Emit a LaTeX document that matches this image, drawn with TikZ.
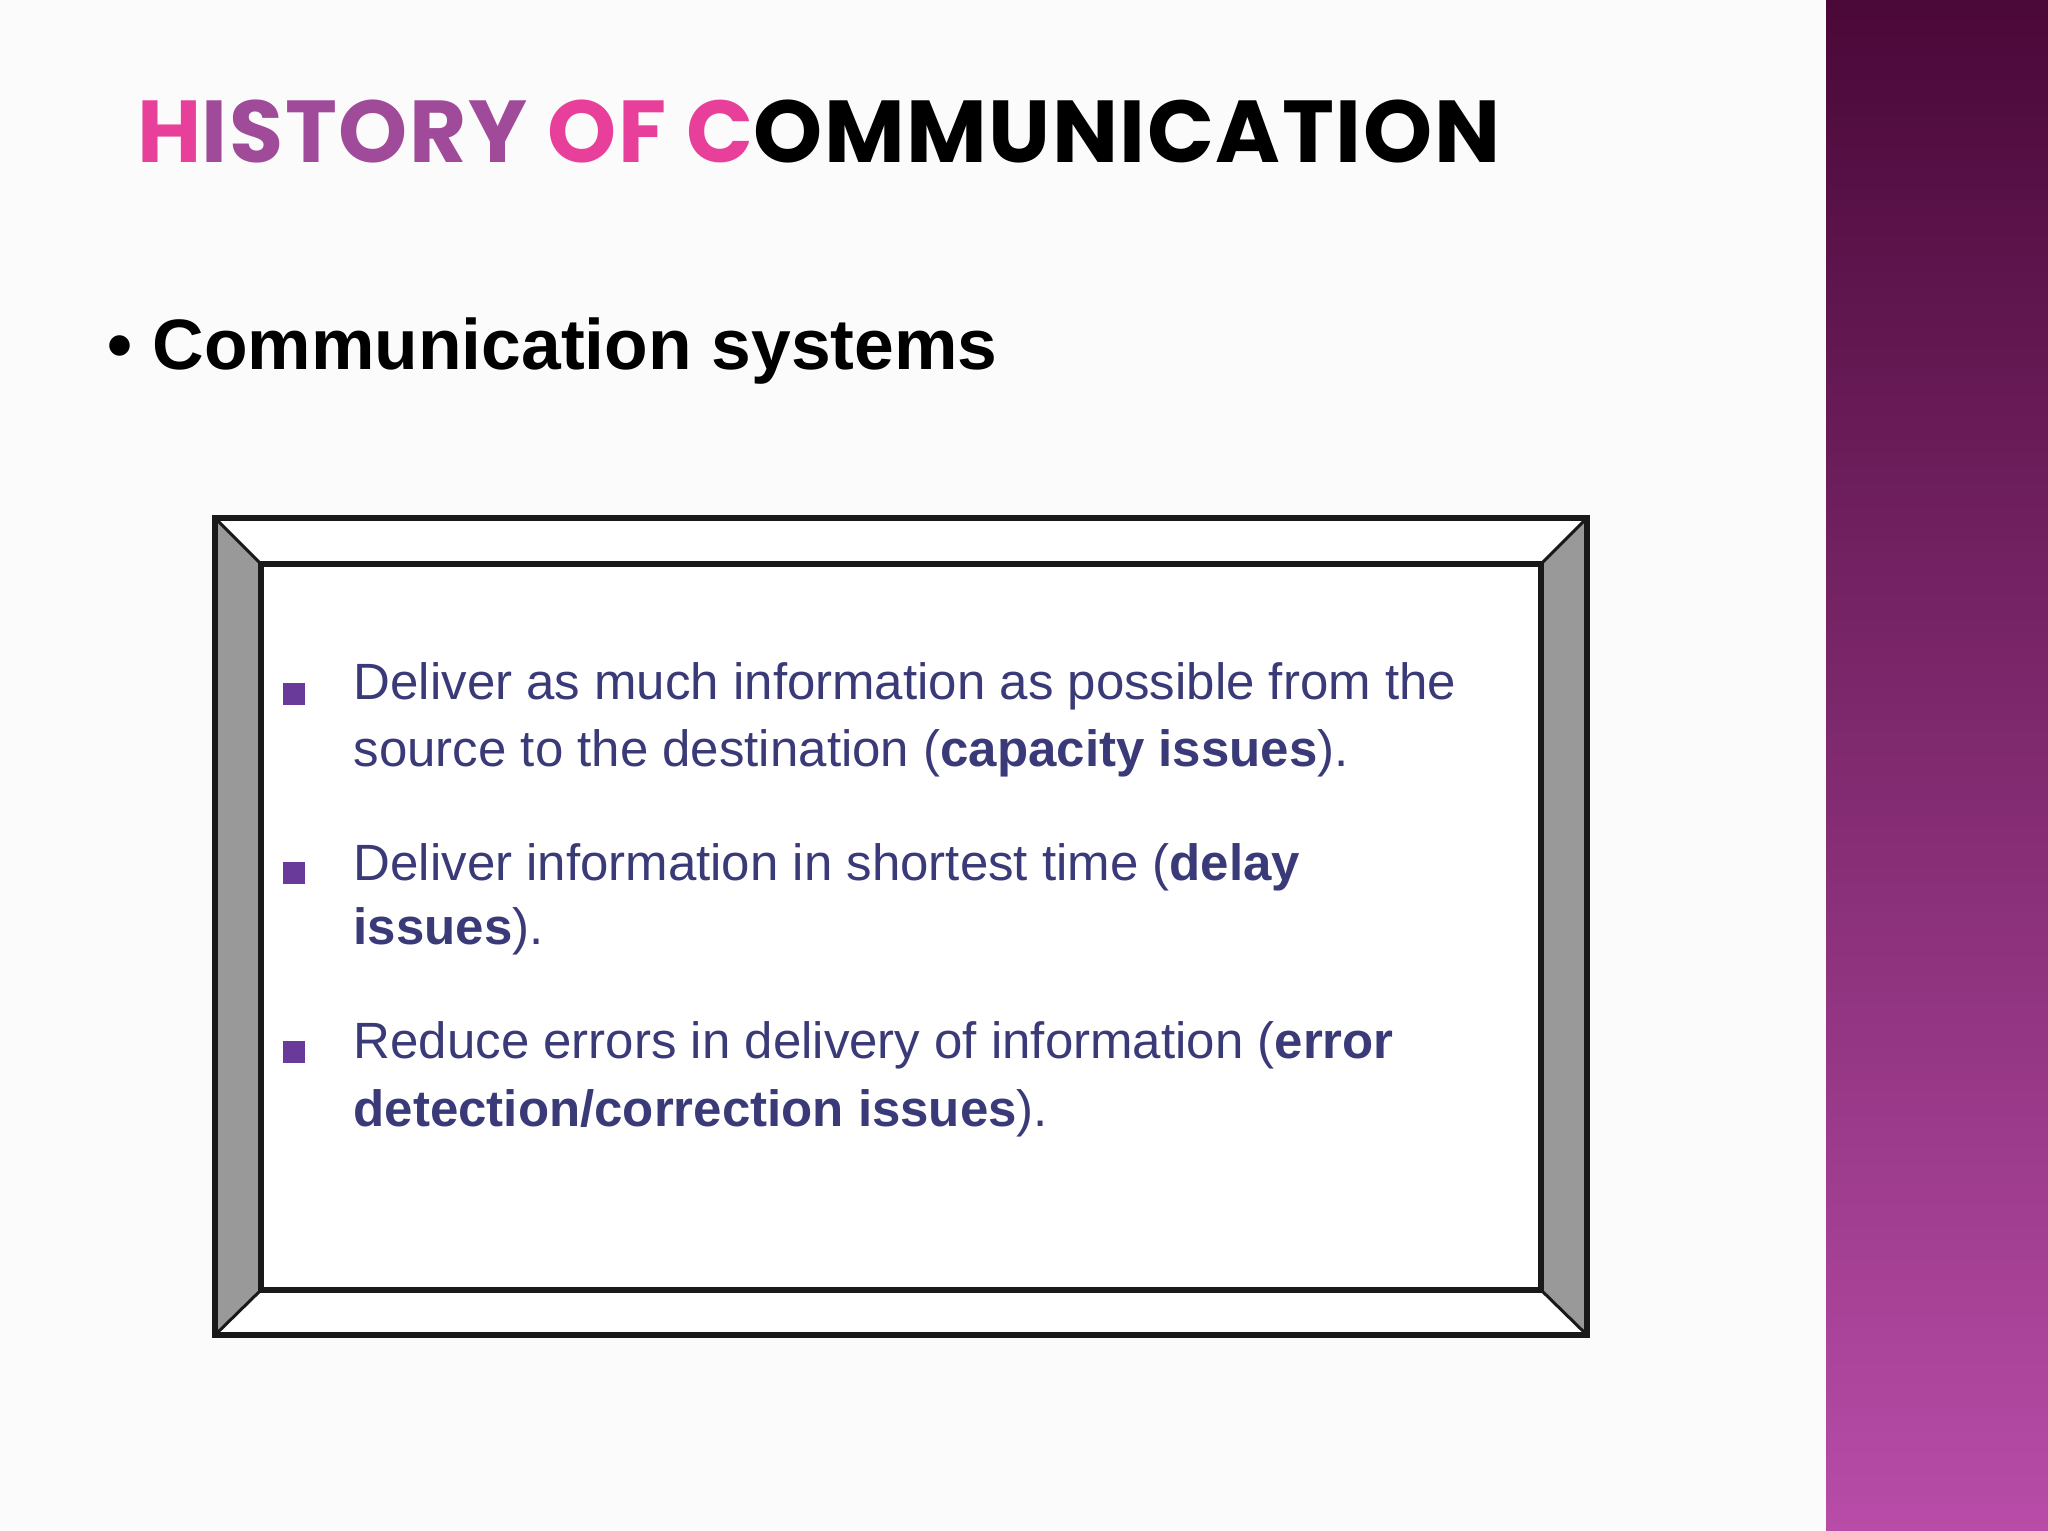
\documentclass[tikz,border=0pt]{standalone}
\usepackage{fontspec}
\setmainfont{Liberation Sans}
\newfontfamily\titlefont{Poppins}
\definecolor{tpink}{HTML}{E8409A}
\definecolor{tpurp}{HTML}{A04A9A}
\definecolor{navy}{HTML}{3A3A78}
\definecolor{bul}{HTML}{6A3A9A}
\definecolor{bandtop}{HTML}{4A0838}
\definecolor{bandbot}{HTML}{B84CA8}
\begin{document}
\begin{tikzpicture}[x=0.01cm,y=-0.01cm,
  txt/.style={anchor=base west,inner sep=0,text=navy,font=\fontsize{14.5}{17}\selectfont},
  sq/.style={fill=bul,minimum size=0.22cm,inner sep=0},
  frame/.style={draw=black!90,line width=0.06cm,line join=miter}]
\useasboundingbox (0,0) rectangle (2048,1531);
\fill[white!97!gray] (0,0) rectangle (2048,1531);
\shade[top color=bandtop,bottom color=bandbot] (1826,0) rectangle (2048,1531);
\node[anchor=base west,inner sep=0,font=\titlefont\bfseries\fontsize{25}{30}\selectfont] (title) at (137,163)
 {\addfontfeature{LetterSpace=1.8}\textcolor{tpink}{H}\textcolor{tpurp}{ISTORY} \textcolor{tpink}{OF C}OMMUNICATION};
\node[anchor=base west,inner sep=0,font=\bfseries\fontsize{20.3}{24}\selectfont] (sub) at (107,370) {\textbullet\ Communication systems};
% frame
\coordinate (o1) at (215,518); \coordinate (o2) at (1587,518);
\coordinate (o3) at (1587,1335); \coordinate (o4) at (215,1335);
\coordinate (i1) at (261,564); \coordinate (i2) at (1541,564);
\coordinate (i3) at (1541,1290); \coordinate (i4) at (261,1290);
\fill[white] (o1)--(o2)--(o3)--(o4)--cycle;
\fill[gray!80] (o1)--(i1)--(i4)--(o4)--cycle;
\fill[gray!80] (o2)--(i2)--(i3)--(o3)--cycle;
\draw[frame] (o1)--(o2)--(o3)--(o4)--cycle;
\draw[frame] (i1)--(i2)--(i3)--(i4)--cycle;
\draw[frame,line width=0.03cm] (o1)--(i1) (o2)--(i2) (o3)--(i3) (o4)--(i4);
% bullets
\node[sq] (b1) at (294,694) {};
\node[sq] (b2) at (294,873) {};
\node[sq] (b3) at (294,1052) {};
\node[txt] (t1) at (353,700) {Deliver as much information as possible from the};
\node[txt] (t1b) at (353,767) {source to the destination (\textbf{capacity issues}).};
\node[txt] (t2) at (353,880) {Deliver information in shortest time (\textbf{delay}};
\node[txt] (t2b) at (353,945) {\textbf{issues}).};
\node[txt] (t3) at (353,1058) {Reduce errors in delivery of information (\textbf{error}};
\node[txt] (t3b) at (353,1126) {\textbf{detection/correction issues}).};
\end{tikzpicture}
\end{document}
